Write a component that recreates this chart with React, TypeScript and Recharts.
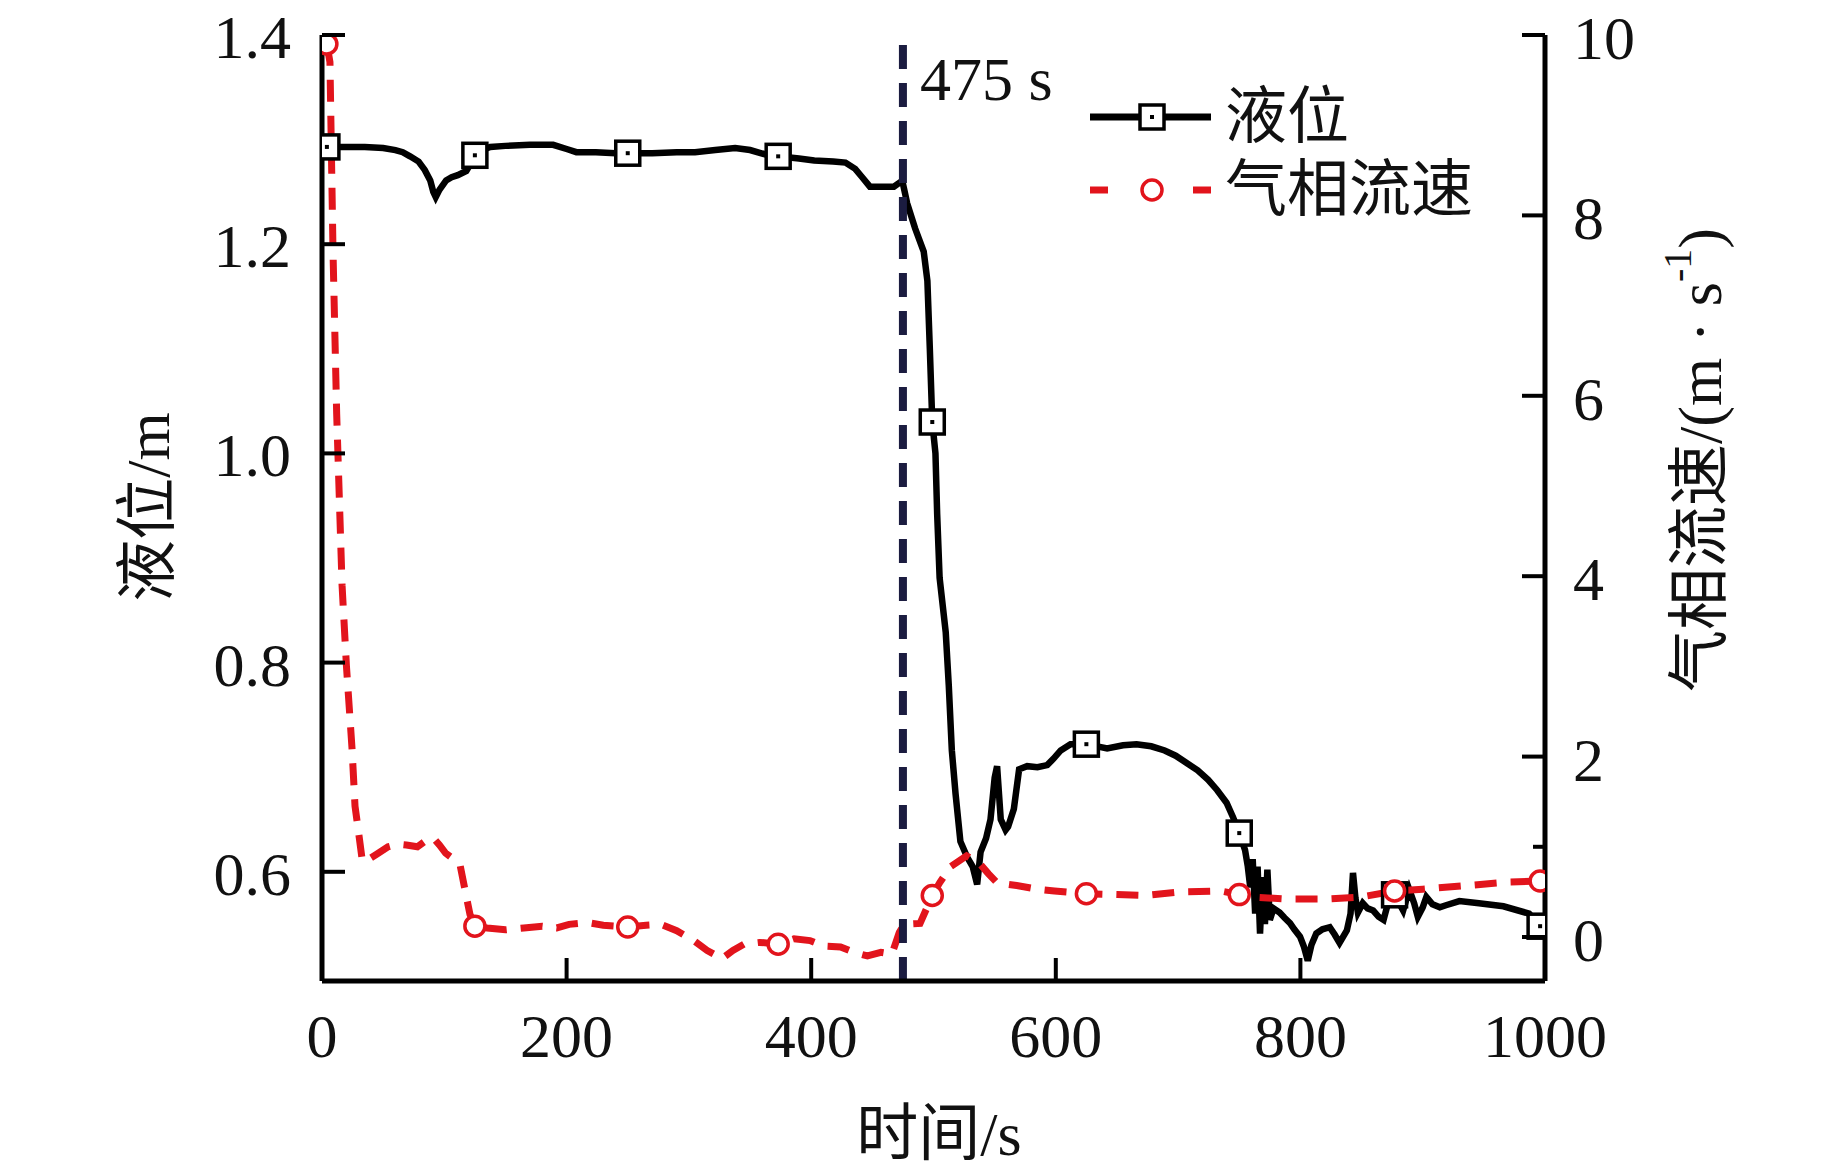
import React from 'react';
import { LineChart, Line, XAxis, YAxis, ReferenceLine, Legend, Customized } from 'recharts';

// ---------- data ----------
const levelTime = [
  4, 20, 35, 50, 60, 66, 72, 79, 84, 88.5, 91, 93, 96, 101.5, 106, 111, 118, 122, 125, 131,
  137.6, 150, 170, 189, 200, 208, 224, 240, 250, 270, 290, 305, 321.6, 337.8, 350, 362, 373, 390, 402.5, 418,
  428, 436, 441, 448, 458, 467.6, 473.7, 475, 478.5, 485, 492, 495, 497, 499, 501.6, 503, 505, 510, 512.5, 515,
  518, 522, 527.5, 532, 535.7, 538.5, 543, 546.6, 550, 552, 555, 559, 561, 565.7, 570, 576.6, 585, 593, 598, 604,
  612, 625, 642, 655, 666, 678, 689, 698, 707, 716, 724.6, 732, 739.6, 745, 750, 754.7, 757, 759, 761, 763,
  765, 767, 769, 771, 773, 775, 778, 783, 787, 791.5, 795, 799.7, 803, 806, 809, 813, 818, 824, 828, 832,
  835, 838, 841, 843, 845, 847, 851, 855, 859.5, 864, 868, 873, 877, 884, 889, 893, 896, 900, 903, 908,
  914, 919, 930, 946, 966, 987, 996, 1000,
];
const levelValue = [
  1.293, 1.293, 1.293, 1.292, 1.29, 1.288, 1.284, 1.279, 1.271, 1.261, 1.25, 1.245, 1.252, 1.261, 1.264, 1.266, 1.27, 1.278, 1.285, 1.29,
  1.293, 1.294, 1.295, 1.295, 1.291, 1.288, 1.288, 1.287, 1.287, 1.287, 1.288, 1.288, 1.29, 1.292, 1.29, 1.286, 1.284, 1.282, 1.28, 1.279,
  1.278, 1.272, 1.265, 1.255, 1.255, 1.255, 1.26, 1.258, 1.239, 1.215, 1.193, 1.165, 1.1, 1.03, 1.0, 0.942, 0.881, 0.829, 0.778, 0.716,
  0.675, 0.629, 0.614, 0.605, 0.588, 0.619, 0.632, 0.65, 0.69, 0.701, 0.65, 0.64, 0.643, 0.66, 0.698, 0.701, 0.7, 0.702, 0.708, 0.716,
  0.722, 0.722, 0.718, 0.721, 0.722, 0.72, 0.716, 0.711, 0.704, 0.697, 0.688, 0.678, 0.666, 0.652, 0.637, 0.621, 0.605, 0.585, 0.612, 0.56,
  0.605, 0.541, 0.595, 0.55, 0.602, 0.554, 0.565, 0.561, 0.556, 0.551, 0.545, 0.538, 0.528, 0.515, 0.53, 0.541, 0.545, 0.547, 0.54, 0.532,
  0.538, 0.544, 0.56, 0.599, 0.575, 0.561, 0.57, 0.565, 0.563, 0.557, 0.554, 0.576, 0.578, 0.563, 0.583, 0.57, 0.557, 0.566, 0.576, 0.569,
  0.566, 0.568, 0.572, 0.57, 0.567, 0.56, 0.548, 0.545,
];

const gasTime = [
  4, 6.5, 9, 12, 16.4, 20, 24.5, 27, 30, 33, 38, 45, 54, 62, 69, 78, 85, 91, 96, 101,
  108, 113, 118, 121, 125, 135, 150, 165, 180, 192, 202, 217, 230, 250, 265, 277, 290, 304, 315, 327,
  336, 345, 358, 373, 386, 399, 410, 424, 435, 446, 457, 466, 472, 476, 489, 499, 505, 514, 527, 538,
  545, 552, 568, 585, 599, 625, 650, 672, 702, 735, 750, 764, 789, 821, 848, 877, 900, 936, 971, 996, 1000,
];
const gasValue = [
  9.9, 9.7, 7.6, 5.8, 3.9, 3.0, 2.1, 1.45, 1.15, 0.84, 0.86, 0.92, 1.0, 1.03, 1.02, 1.0, 1.07, 1.1, 1.02, 0.93,
  0.86, 0.79, 0.45, 0.25, 0.12, 0.1, 0.08, 0.1, 0.12, 0.1, 0.14, 0.16, 0.13, 0.11, 0.13, 0.14, 0.07, -0.04, -0.15, -0.24,
  -0.15, -0.08, -0.06, -0.08, -0.02, -0.04, -0.1, -0.11, -0.17, -0.21, -0.17, -0.19, 0.05, 0.14, 0.15, 0.46, 0.6, 0.78, 0.9, 0.81,
  0.7, 0.6, 0.57, 0.53, 0.51, 0.48, 0.47, 0.46, 0.5, 0.51, 0.47, 0.44, 0.42, 0.42, 0.44, 0.51, 0.53, 0.57, 0.61, 0.62, 0.62,
];

const markerTimes = [4, 125, 250, 373, 499, 625, 750, 877, 996];
const xTicks = [0, 200, 400, 600, 800, 1000];
const leftTicks = [0.6, 0.8, 1.0, 1.2, 1.4];
const rightTicks = [0, 1, 2, 4, 6, 8, 10];
const rightLabelled = [0, 2, 4, 6, 8, 10];
const eventTime = 475;
const eventLabel = '475 s';
const levelName = '液位';
const gasName = '气相流速';

const levelData = levelTime.map((t, i) => ({ t, level: levelValue[i] }));
const gasData = gasTime.map((t, i) => ({ t, gas: gasValue[i] }));

// ---------- style ----------
const SERIF = '"Liberation Serif", "Times New Roman", "Noto Sans CJK SC", serif';
const RED = '#e2141c';
const NAVY = '#1b1c40';
const INK = '#111';
const FS = 62;

const SquareMark = ({ cx, cy }: { cx: number; cy: number }) => (
  <g>
    <rect x={cx - 12} y={cy - 12} width={24} height={24} fill="#fff" stroke="#000" strokeWidth={3.5} />
    <rect x={cx - 2} y={cy - 2} width={4} height={4} fill="#000" />
  </g>
);
const CircleMark = ({ cx, cy }: { cx: number; cy: number }) => (
  <circle cx={cx} cy={cy} r={10} fill="#fff" stroke={RED} strokeWidth={3.5} />
);

const levelDot = (props: any) => {
  const { cx, cy, payload, index } = props;
  if (!markerTimes.includes(payload.t)) return <g key={`ld-${index}`} />;
  return (
    <g key={`ld-${index}`}>
      <SquareMark cx={cx} cy={cy} />
    </g>
  );
};
const gasDot = (props: any) => {
  const { cx, cy, payload, index } = props;
  if (!markerTimes.includes(payload.t)) return <g key={`gd-${index}`} />;
  return (
    <g key={`gd-${index}`}>
      <CircleMark cx={cx} cy={cy} />
    </g>
  );
};

const XTick = (props: any) => {
  const { x, y, payload } = props;
  return (
    <g>
      <line x1={x} y1={y} x2={x} y2={y - 23} stroke="#000" strokeWidth={4} />
      <text x={x} y={y + 76} textAnchor="middle" fontFamily={SERIF} fontSize={FS} fill={INK}>
        {payload.value}
      </text>
    </g>
  );
};
const LeftTick = (props: any) => {
  const { x, y, payload } = props;
  return (
    <g>
      <line x1={x} y1={y} x2={x + 23} y2={y} stroke="#000" strokeWidth={4} />
      <text x={x - 31} y={y + 23} textAnchor="end" fontFamily={SERIF} fontSize={FS} fill={INK}>
        {Number(payload.value).toFixed(1)}
      </text>
    </g>
  );
};
const RightTick = (props: any) => {
  const { x, y, payload } = props;
  const major = rightLabelled.includes(payload.value);
  return (
    <g>
      <line x1={x} y1={y} x2={x - (major ? 23 : 12)} y2={y} stroke="#000" strokeWidth={4} />
      {major && (
        <text x={x + 28} y={y + 24} textAnchor="start" fontFamily={SERIF} fontSize={FS} fill={INK}>
          {payload.value}
        </text>
      )}
    </g>
  );
};

const Titles = () => (
  <g fontFamily={SERIF} fill={INK}>
    <text x={939} y={1155} textAnchor="middle" fontSize={FS}>时间/s</text>
    <text transform="translate(148,507) rotate(-90)" textAnchor="middle" dominantBaseline="central" fontSize={FS}>
      液位/m
    </text>
    <text transform="translate(1700,460) rotate(-90)" textAnchor="middle" dominantBaseline="central" fontSize={FS}>
      气相流速/(m · s<tspan baselineShift="super" fontSize={40}>-1</tspan>)
    </text>
  </g>
);

const renderLegend = () => (
  <svg width={470} height={170} style={{ overflow: 'visible', display: 'block' }}>
    <g>
      <line x1={10} y1={57} x2={131} y2={57} stroke="#000" strokeWidth={7} />
      <SquareMark cx={72} cy={57} />
      <text x={145} y={57} dominantBaseline="central" fontFamily={SERIF} fontSize={FS} fill={INK}>
        {levelName}
      </text>
    </g>
    <g>
      <line x1={10} y1={130} x2={28} y2={130} stroke={RED} strokeWidth={7} />
      <line x1={113} y1={130} x2={131} y2={130} stroke={RED} strokeWidth={7} />
      <CircleMark cx={72} cy={130} />
      <text x={145} y={130} dominantBaseline="central" fontFamily={SERIF} fontSize={FS} fill={INK}>
        {gasName}
      </text>
    </g>
  </svg>
);

const renderEventLabel = (props: any) => {
  const vb = props.viewBox || {};
  return (
    <text x={(vb.x ?? 0) + 17} y={100} fontFamily={SERIF} fontSize={FS} fill={INK}>
      {eventLabel}
    </text>
  );
};

export default function App() {
  return (
    <div style={{ position: 'absolute', left: 0, top: 0, width: 1843, height: 1169, background: '#fff' }}>
      <LineChart width={1843} height={1169} margin={{ top: 35, right: 0, bottom: 0, left: 0 }}>
        <XAxis
          type="number"
          dataKey="t"
          domain={[0, 1000]}
          allowDataOverflow
          ticks={xTicks}
          interval={0}
          height={188}
          axisLine={{ stroke: '#000', strokeWidth: 5 }}
          tickLine={false}
          tickSize={0}
          tickMargin={0}
          tick={<XTick />}
        />
        <YAxis
          yAxisId="left"
          type="number"
          domain={[0.4956, 1.4]}
          allowDataOverflow
          ticks={leftTicks}
          interval={0}
          width={322}
          axisLine={{ stroke: '#000', strokeWidth: 5 }}
          tickLine={false}
          tickSize={0}
          tickMargin={0}
          tick={<LeftTick />}
        />
        <YAxis
          yAxisId="right"
          orientation="right"
          type="number"
          domain={[-0.488, 10]}
          allowDataOverflow
          ticks={rightTicks}
          interval={0}
          width={298}
          axisLine={{ stroke: '#000', strokeWidth: 5 }}
          tickLine={false}
          tickSize={0}
          tickMargin={0}
          tick={<RightTick />}
        />
        <Line
          yAxisId="left"
          data={levelData}
          dataKey="level"
          name={levelName}
          type="linear"
          stroke="#000"
          strokeWidth={6.5}
          strokeLinejoin="miter"
          dot={levelDot}
          activeDot={false}
          isAnimationActive={false}
        />
        <Line
          yAxisId="right"
          data={gasData}
          dataKey="gas"
          name={gasName}
          type="linear"
          stroke={RED}
          strokeWidth={7}
          strokeDasharray="22 14"
          dot={gasDot}
          activeDot={false}
          isAnimationActive={false}
        />
        <ReferenceLine
          x={eventTime}
          yAxisId="left"
          stroke={NAVY}
          strokeWidth={8}
          strokeDasharray="24 14"
          label={renderEventLabel}
        />
        <Legend
          layout="vertical"
          align="center"
          verticalAlign="middle"
          content={renderLegend}
          wrapperStyle={{ position: 'absolute', left: 1080, top: 60, width: 470, height: 170 }}
        />
        <Customized component={Titles} />
      </LineChart>
    </div>
  );
}
